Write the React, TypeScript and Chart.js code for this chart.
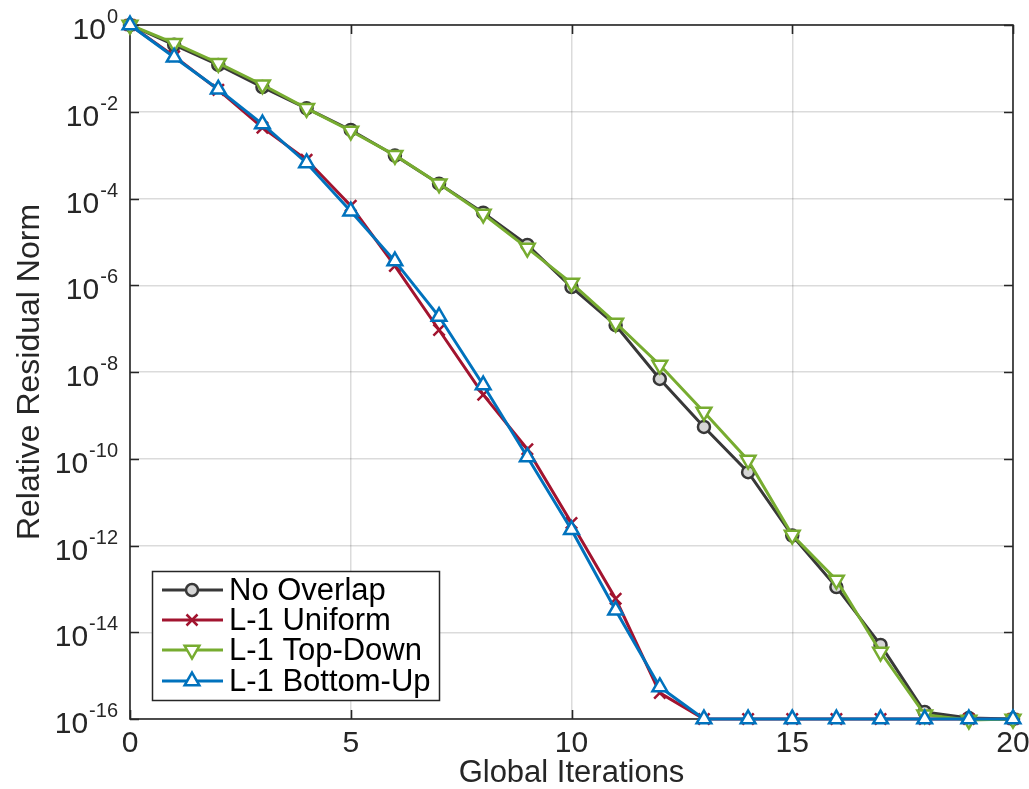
import React, { useEffect, useRef } from "react";
import { Chart, registerables } from "chart.js";

Chart.register(...registerables);

// Global iteration index
const iterations = [0, 1, 2, 3, 4, 5, 6, 7, 8, 9, 10, 11, 12, 13, 14, 15, 16, 17, 18, 19, 20];

// Relative residual norm per iteration for each overlap strategy
const noOverlap = [
  1, 3.5e-1, 1.2e-1, 3.7e-2, 1.2e-2, 3.8e-3, 9.8e-4, 2.2e-4, 4.7e-5, 8.5e-6, 9.1e-7,
  1.2e-7, 6.9e-9, 5.4e-10, 4.9e-11, 1.7e-12, 1.1e-13, 5.1e-15, 1.45e-16, 1.05e-16, 1e-16,
];
const l1Uniform = [
  1, 1.9e-1, 3.2e-2, 4.3e-3, 7.8e-4, 6.8e-5, 2.8e-6, 9.3e-8, 3.0e-9, 1.66e-10, 3.3e-12,
  5.9e-14, 4.0e-16, 1e-16, 1e-16, 1e-16, 1e-16, 1e-16, 1e-16, 1e-16, 1e-16,
];
const l1TopDown = [
  1, 3.8e-1, 1.32e-1, 4.2e-2, 1.2e-2, 3.6e-3, 1.0e-3, 2.2e-4, 4.4e-5, 7.2e-6, 1.12e-6,
  1.35e-7, 1.45e-8, 1.2e-9, 9.3e-11, 1.74e-12, 1.6e-13, 3.5e-15, 1.26e-16, 9.5e-17, 1e-16,
];
const l1BottomUp = [
  1, 1.8e-1, 3.3e-2, 5.2e-3, 6.6e-4, 5.1e-5, 3.6e-6, 1.9e-7, 5.0e-9, 1.1e-10, 2.3e-12,
  3.2e-14, 5.5e-16, 1e-16, 1e-16, 1e-16, 1e-16, 1e-16, 1e-16, 1e-16, 1e-16,
];

const seriesNames = ["No Overlap", "L-1 Uniform", "L-1 Top-Down", "L-1 Bottom-Up"];
const yTickExponents = [0, -2, -4, -6, -8, -10, -12, -14, -16];
const xTickValues = [0, 5, 10, 15, 20];
const xTitle = "Global Iterations";
const yTitle = "Relative Residual Norm";

const FONT = '"Liberation Sans", Arial, Helvetica, sans-serif';
const TEXT = "#262626";
const GRID = "rgba(0,0,0,0.14)";

const COLORS = {
  black: "#383838",
  red: "#A2142F",
  green: "#77AC30",
  blue: "#0072BD",
};

const TRI_R = 8.5;
const CIRCLE_R = 6;

type MarkerKind = "circle" | "cross" | "down" | "up";

function drawMarker(ctx: CanvasRenderingContext2D, kind: MarkerKind, x: number, y: number, color: string) {
  ctx.save();
  ctx.strokeStyle = color;
  ctx.lineWidth = 2.5;
  ctx.beginPath();
  if (kind === "circle") {
    ctx.fillStyle = "#d6d6d6";
    ctx.arc(x, y, CIRCLE_R, 0, Math.PI * 2);
    ctx.fill();
    ctx.stroke();
  } else if (kind === "cross") {
    const r = 5.5;
    ctx.moveTo(x - r, y - r);
    ctx.lineTo(x + r, y + r);
    ctx.moveTo(x + r, y - r);
    ctx.lineTo(x - r, y + r);
    ctx.stroke();
  } else {
    const r = TRI_R;
    const dir = kind === "up" ? 1 : -1;
    const half = (Math.sqrt(3) * r) / 2;
    ctx.fillStyle = "#ffffff";
    ctx.moveTo(x, y - dir * r);
    ctx.lineTo(x + half, y + dir * r * 0.5);
    ctx.lineTo(x - half, y + dir * r * 0.5);
    ctx.closePath();
    ctx.fill();
    ctx.stroke();
  }
  ctx.restore();
}

const framePlugin = {
  id: "matlabFrame",
  beforeDatasetsDraw(chart: any) {
    const { ctx, chartArea } = chart;
    const { left, right, top, bottom } = chartArea;
    const xs = chart.scales.x;
    const ys = chart.scales.y;
    ctx.save();
    ctx.strokeStyle = TEXT;
    ctx.lineWidth = 1.6;
    ctx.strokeRect(left, top, right - left, bottom - top);
    ctx.beginPath();
    const tl = 9;
    for (const e of yTickExponents) {
      const py = Math.round(ys.getPixelForValue(Math.pow(10, e))) + 0.5;
      ctx.moveTo(left, py);
      ctx.lineTo(left + tl, py);
      ctx.moveTo(right, py);
      ctx.lineTo(right - tl, py);
    }
    for (const v of xTickValues) {
      const px = Math.round(xs.getPixelForValue(v)) + 0.5;
      ctx.moveTo(px, bottom);
      ctx.lineTo(px, bottom - tl);
      ctx.moveTo(px, top);
      ctx.lineTo(px, top + tl);
    }
    ctx.stroke();
    ctx.restore();
  },
  afterDraw(chart: any) {
    const { ctx, chartArea } = chart;
    const xs = chart.scales.x;
    const ys = chart.scales.y;
    ctx.save();
    ctx.fillStyle = TEXT;

    // y tick labels as 10 with a superscript exponent
    const rightEdge = 118;
    for (const e of yTickExponents) {
      const py = ys.getPixelForValue(Math.pow(10, e));
      const sup = e === 0 ? "0" : `-${-e}`;
      ctx.font = `20px ${FONT}`;
      ctx.textBaseline = "alphabetic";
      ctx.textAlign = "left";
      const supW = ctx.measureText(sup).width;
      const supX = rightEdge - supW;
      ctx.fillText(sup, supX, py - 2);
      ctx.font = `30px ${FONT}`;
      ctx.textAlign = "right";
      ctx.fillText("10", supX - 1, py + 14);
    }

    // x tick labels
    ctx.font = `30px ${FONT}`;
    ctx.textAlign = "center";
    ctx.textBaseline = "middle";
    for (const v of xTickValues) {
      ctx.fillText(String(v), xs.getPixelForValue(v), 744);
    }

    // axis titles
    ctx.font = `31px ${FONT}`;
    ctx.fillText(xTitle, (chartArea.left + chartArea.right) / 2, 773);
    ctx.save();
    ctx.translate(30, (chartArea.top + chartArea.bottom) / 2);
    ctx.rotate(-Math.PI / 2);
    ctx.font = `32px ${FONT}`;
    ctx.fillText(yTitle, 0, 0);
    ctx.restore();

    // legend
    const bx = 152, by = 571, bw = 287, bh = 129;
    ctx.fillStyle = "#ffffff";
    ctx.fillRect(bx, by, bw, bh);
    ctx.strokeStyle = TEXT;
    ctx.lineWidth = 1.5;
    ctx.strokeRect(bx + 0.5, by + 0.5, bw, bh);
    const rows = [590, 620, 650, 681];
    const styles: { color: string; kind: MarkerKind }[] = [
      { color: COLORS.black, kind: "circle" },
      { color: COLORS.red, kind: "cross" },
      { color: COLORS.green, kind: "down" },
      { color: COLORS.blue, kind: "up" },
    ];
    rows.forEach((ry, i) => {
      const st = styles[i];
      ctx.strokeStyle = st.color;
      ctx.lineWidth = 3;
      ctx.beginPath();
      ctx.moveTo(162, ry);
      ctx.lineTo(223, ry);
      ctx.stroke();
      drawMarker(ctx, st.kind, 192, ry, st.color);
      ctx.fillStyle = "#000000";
      ctx.font = `31px ${FONT}`;
      ctx.textAlign = "left";
      ctx.textBaseline = "middle";
      ctx.fillText(seriesNames[i], 229, ry + 1);
    });
    ctx.restore();
  },
};

function toPoints(values: number[]) {
  return iterations.map((x, i) => ({ x, y: values[i] }));
}

export default function App() {
  const canvasRef = useRef<HTMLCanvasElement | null>(null);

  useEffect(() => {
    if (!canvasRef.current) return;
    const common = {
      borderWidth: 3,
      pointBorderWidth: 2.5,
      clip: false as any,
      tension: 0,
    };
    const chart = new Chart(canvasRef.current, {
      type: "line",
      data: {
        datasets: [
          {
            ...common,
            label: seriesNames[0],
            data: toPoints(noOverlap),
            borderColor: COLORS.black,
            pointBorderColor: COLORS.black,
            pointBackgroundColor: "#d6d6d6",
            pointStyle: "circle",
            pointRadius: CIRCLE_R,
            order: 4,
          },
          {
            ...common,
            label: seriesNames[1],
            data: toPoints(l1Uniform),
            borderColor: COLORS.red,
            pointBorderColor: COLORS.red,
            pointBackgroundColor: COLORS.red,
            pointStyle: "crossRot",
            pointRadius: 8,
            order: 3,
          },
          {
            ...common,
            label: seriesNames[2],
            data: toPoints(l1TopDown),
            borderColor: COLORS.green,
            pointBorderColor: COLORS.green,
            pointBackgroundColor: "#ffffff",
            pointStyle: "triangle",
            pointRotation: 180,
            pointRadius: TRI_R,
            order: 2,
          },
          {
            ...common,
            label: seriesNames[3],
            data: toPoints(l1BottomUp),
            borderColor: COLORS.blue,
            pointBorderColor: COLORS.blue,
            pointBackgroundColor: "#ffffff",
            pointStyle: "triangle",
            pointRadius: TRI_R,
            order: 1,
          },
        ],
      },
      options: {
        animation: false,
        responsive: false,
        devicePixelRatio: 1,
        layout: { padding: { left: 0, right: 16, top: 25, bottom: 0 } },
        plugins: {
          legend: { display: false },
          tooltip: { enabled: false },
        },
        scales: {
          x: {
            type: "linear",
            min: 0,
            max: 20,
            afterBuildTicks: (scale: any) => {
              scale.ticks = xTickValues.map((value) => ({ value }));
            },
            afterFit: (scale: any) => {
              scale.height = 70;
            },
            ticks: { display: false },
            border: { display: false },
            grid: { color: GRID, lineWidth: 1.5, drawTicks: false },
          },
          y: {
            type: "logarithmic",
            min: 1e-16,
            max: 1,
            afterBuildTicks: (scale: any) => {
              scale.ticks = yTickExponents.map((e) => ({ value: Math.pow(10, e) }));
            },
            afterFit: (scale: any) => {
              scale.width = 130;
            },
            ticks: { display: false },
            border: { display: false },
            grid: { color: GRID, lineWidth: 1.5, drawTicks: false },
          },
        },
      },
      plugins: [framePlugin],
    });
    return () => chart.destroy();
  }, []);

  return (
    <div style={{ position: "absolute", left: 0, top: 0, width: 1029, height: 789, background: "#ffffff" }}>
      <canvas ref={canvasRef} width={1029} height={789} />
    </div>
  );
}
